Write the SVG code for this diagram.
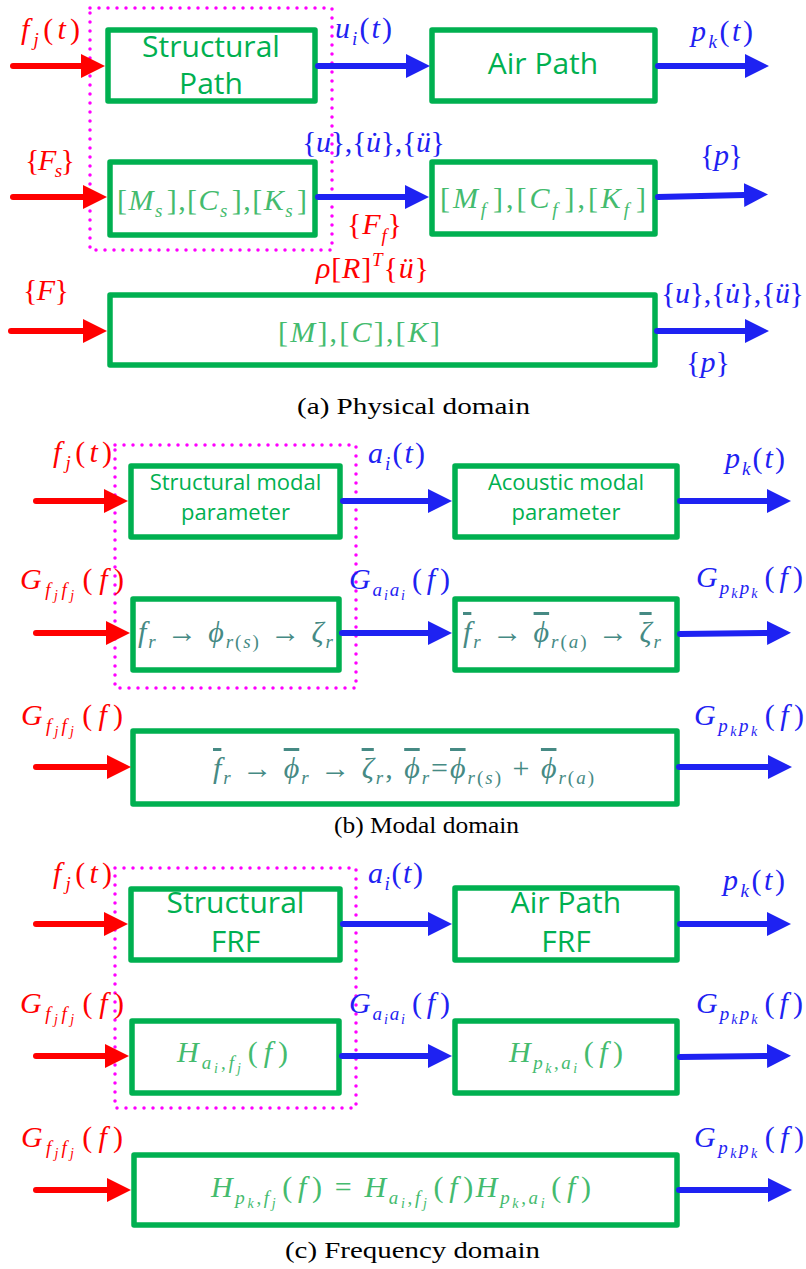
<svg xmlns="http://www.w3.org/2000/svg" width="806" height="1269" viewBox="0 0 806 1269">
<style>
.bx{fill:none;stroke:#00B050;stroke-width:5.5;stroke-linejoin:round}
.dot{fill:none;stroke:#FF00FF;stroke-width:3.5;stroke-linecap:round;stroke-dasharray:0 9}
.ar{fill:none;stroke-width:6;stroke-linecap:round}
.ar.r{stroke:#FF0000}.ar.b{stroke:#1E22F2}
.m{font-family:"Liberation Serif","Times New Roman",Times,serif;font-size:30px}
.bm{font-family:"Liberation Serif","Times New Roman",Times,serif;font-size:30px}
.i{font-style:italic}
.s{font-size:19px}
.ss{font-size:14px}
.r{fill:#FF0000}.b{fill:#1E22F2}.lg{fill:#44BB6E}.tl{fill:#468A84}
.sn{font-family:"Open Sans","Noto Sans",sans-serif;fill:#00B050;text-anchor:middle}
.big{font-size:30px}.mid{font-size:22px}
.cap{font-family:"Liberation Serif","Times New Roman",Times,serif;font-size:24px;fill:#000}
.ov{text-decoration:overline}
</style>
<defs>
<marker id="hr" viewBox="0 0 24 24" refX="0" refY="12" markerWidth="24" markerHeight="24" markerUnits="userSpaceOnUse" orient="auto"><path d="M0,0 L24,12 L0,24 z" fill="#FF0000"/></marker>
<marker id="hb" viewBox="0 0 24 24" refX="0" refY="12" markerWidth="24" markerHeight="24" markerUnits="userSpaceOnUse" orient="auto"><path d="M0,0 L24,12 L0,24 z" fill="#1E22F2"/></marker>
</defs>
<rect width="806" height="1269" fill="#fff"/>

<!-- subsystem outlines -->
<g id="subsystem-a"><rect class="dot" x="90" y="8" width="242" height="242"/></g>
<g id="subsystem-b"><rect class="dot" x="115" y="445" width="241" height="243"/></g>
<g id="subsystem-c"><rect class="dot" x="115" y="868" width="241" height="240"/></g>

<!-- nodes section a -->
<g id="a-structural-path"><rect class="bx" x="108" y="30" width="207" height="71"/><text class="sn big" x="211" y="57">Structural</text><text class="sn big" x="211" y="94">Path</text></g>
<g id="a-air-path"><rect class="bx" x="432" y="30" width="223" height="71"/><text class="sn big" x="543" y="74">Air Path</text></g>
<g id="a-structural-matrix"><rect class="bx" x="110" y="162" width="205" height="73"/>
<text class="bm lg" x="117" y="210" textLength="190">[<tspan class="i">M</tspan><tspan class="s i" dy="7">s</tspan><tspan dy="-7" dx="3">],[</tspan><tspan class="i">C</tspan><tspan class="s i" dy="7">s</tspan><tspan dy="-7" dx="3">],[</tspan><tspan class="i">K</tspan><tspan class="s i" dy="7">s</tspan><tspan dy="-7" dx="3">]</tspan></text></g>
<g id="a-fluid-matrix"><rect class="bx" x="432" y="162" width="223" height="72"/>
<text class="bm lg" x="440" y="208" textLength="206">[<tspan class="i">M</tspan><tspan class="s i" dy="8">f</tspan><tspan dy="-8" dx="4">],[</tspan><tspan class="i">C</tspan><tspan class="s i" dy="8">f</tspan><tspan dy="-8" dx="4">],[</tspan><tspan class="i">K</tspan><tspan class="s i" dy="8">f</tspan><tspan dy="-8" dx="4">]</tspan></text></g>
<g id="a-coupled-matrix"><rect class="bx" x="110" y="295" width="545" height="70"/>
<text class="bm lg" x="278" y="342" textLength="162">[<tspan class="i">M</tspan>],[<tspan class="i">C</tspan>],[<tspan class="i">K</tspan>]</text></g>

<!-- nodes section b -->
<g id="b-structural-modal"><rect class="bx" x="131" y="466" width="209" height="71"/><text class="sn mid" x="235.5" y="490">Structural modal</text><text class="sn mid" x="235.5" y="520">parameter</text></g>
<g id="b-acoustic-modal"><rect class="bx" x="455" y="466" width="222" height="71"/><text class="sn mid" x="566" y="490">Acoustic modal</text><text class="sn mid" x="566" y="520">parameter</text></g>
<g id="b-structural-params"><rect class="bx" x="133" y="599" width="206" height="71"/>
<text class="bm tl" x="138" y="642" textLength="195"><tspan class="i">f</tspan><tspan class="s i" dy="6">r</tspan><tspan dy="-6"> → </tspan><tspan class="i">ϕ</tspan><tspan class="s" dy="6"><tspan class="i">r</tspan>(<tspan class="i">s</tspan>)</tspan><tspan dy="-6"> → </tspan><tspan class="i">ζ</tspan><tspan class="s i" dy="6">r</tspan></text></g>
<g id="b-acoustic-params"><rect class="bx" x="455" y="599" width="222" height="71"/>
<text class="bm tl" x="463" y="642" textLength="198"><tspan class="i ov">f</tspan><tspan class="s i" dy="6">r</tspan><tspan dy="-6"> → </tspan><tspan class="i ov">ϕ</tspan><tspan class="s" dy="6"><tspan class="i">r</tspan>(<tspan class="i">a</tspan>)</tspan><tspan dy="-6"> → </tspan><tspan class="i ov">ζ</tspan><tspan class="s i" dy="6">r</tspan></text></g>
<g id="b-coupled-params"><rect class="bx" x="133" y="731" width="544" height="73"/>
<text class="bm tl" x="213" y="778" textLength="381"><tspan class="i ov">f</tspan><tspan class="s i" dy="6">r</tspan><tspan dy="-6"> → </tspan><tspan class="i ov">ϕ</tspan><tspan class="s i" dy="6">r</tspan><tspan dy="-6"> → </tspan><tspan class="i ov">ζ</tspan><tspan class="s i" dy="6">r</tspan><tspan dy="-6">,   </tspan><tspan class="i ov">ϕ</tspan><tspan class="s i" dy="6">r</tspan><tspan dy="-6">=</tspan><tspan class="i ov">ϕ</tspan><tspan class="s" dy="6"><tspan class="i">r</tspan>(<tspan class="i">s</tspan>)</tspan><tspan dy="-6"> + </tspan><tspan class="i ov">ϕ</tspan><tspan class="s" dy="6"><tspan class="i">r</tspan>(<tspan class="i">a</tspan>)</tspan></text></g>

<!-- nodes section c -->
<g id="c-structural-frf"><rect class="bx" x="131" y="889" width="209" height="71"/><text class="sn big" x="235.5" y="913">Structural</text><text class="sn big" x="235.5" y="952">FRF</text></g>
<g id="c-air-path-frf"><rect class="bx" x="455" y="888" width="222" height="72"/><text class="sn big" x="566" y="913">Air Path</text><text class="sn big" x="566" y="952">FRF</text></g>
<g id="c-structural-h"><rect class="bx" x="132" y="1021" width="207" height="72"/>
<text class="bm lg" x="177" y="1062" textLength="111"><tspan class="i">H</tspan><tspan class="s" dy="7"><tspan class="i">a</tspan><tspan class="ss i" dy="4">i</tspan><tspan dy="-4">,</tspan><tspan class="i">f</tspan><tspan class="ss i" dy="4">j</tspan></tspan><tspan dy="-11" dx="4">(</tspan><tspan class="i" dx="3">f</tspan><tspan dx="3">)</tspan></text></g>
<g id="c-air-h"><rect class="bx" x="455" y="1021" width="222" height="72"/>
<text class="bm lg" x="509" y="1062" textLength="114"><tspan class="i">H</tspan><tspan class="s" dy="7"><tspan class="i">p</tspan><tspan class="ss i" dy="4">k</tspan><tspan dy="-4">,</tspan><tspan class="i">a</tspan><tspan class="ss i" dy="4">i</tspan></tspan><tspan dy="-11" dx="4">(</tspan><tspan class="i" dx="3">f</tspan><tspan dx="3">)</tspan></text></g>
<g id="c-total-h"><rect class="bx" x="134" y="1155" width="543" height="70"/>
<text class="bm lg" x="211" y="1197" textLength="380"><tspan class="i">H</tspan><tspan class="s" dy="7"><tspan class="i">p</tspan><tspan class="ss i" dy="4">k</tspan><tspan dy="-4">,</tspan><tspan class="i">f</tspan><tspan class="ss i" dy="4">j</tspan></tspan><tspan dy="-11" dx="4">(</tspan><tspan class="i" dx="3">f</tspan><tspan dx="3">) = </tspan><tspan class="i">H</tspan><tspan class="s" dy="7"><tspan class="i">a</tspan><tspan class="ss i" dy="4">i</tspan><tspan dy="-4">,</tspan><tspan class="i">f</tspan><tspan class="ss i" dy="4">j</tspan></tspan><tspan dy="-11" dx="4">(</tspan><tspan class="i" dx="3">f</tspan><tspan dx="3">)</tspan><tspan class="i">H</tspan><tspan class="s" dy="7"><tspan class="i">p</tspan><tspan class="ss i" dy="4">k</tspan><tspan dy="-4">,</tspan><tspan class="i">a</tspan><tspan class="ss i" dy="4">i</tspan></tspan><tspan dy="-11" dx="4">(</tspan><tspan class="i" dx="3">f</tspan><tspan dx="3">)</tspan></text></g>

<!-- connectors -->
<g id="connectors">
<path class="ar r" d="M13,66 H81" marker-end="url(#hr)"/>
<path class="ar b" d="M318,66 H406" marker-end="url(#hb)"/>
<path class="ar b" d="M658,66 H745" marker-end="url(#hb)"/>
<path class="ar r" d="M13,197 H83" marker-end="url(#hr)"/>
<path class="ar b" d="M318,197 H405" marker-end="url(#hb)"/>
<path class="ar b" d="M658,197 L744,195" marker-end="url(#hb)"/>
<path class="ar r" d="M11,331 H83" marker-end="url(#hr)"/>
<path class="ar b" d="M657,331 H745" marker-end="url(#hb)"/>

<path class="ar r" d="M36,501 H104" marker-end="url(#hr)"/>
<path class="ar b" d="M343,501 H428" marker-end="url(#hb)"/>
<path class="ar b" d="M680,501 H767" marker-end="url(#hb)"/>
<path class="ar r" d="M36,633 H106" marker-end="url(#hr)"/>
<path class="ar b" d="M342,633 H428" marker-end="url(#hb)"/>
<path class="ar b" d="M680,634 L767,633" marker-end="url(#hb)"/>
<path class="ar r" d="M36,767 H107" marker-end="url(#hr)"/>
<path class="ar b" d="M679,767 H768" marker-end="url(#hb)"/>

<path class="ar r" d="M36,924 H104" marker-end="url(#hr)"/>
<path class="ar b" d="M343,924 H428" marker-end="url(#hb)"/>
<path class="ar b" d="M680,924 H767" marker-end="url(#hb)"/>
<path class="ar r" d="M36,1056 H105" marker-end="url(#hr)"/>
<path class="ar b" d="M342,1056 H428" marker-end="url(#hb)"/>
<path class="ar b" d="M680,1057 L767,1056" marker-end="url(#hb)"/>
<path class="ar r" d="M36,1190 H107" marker-end="url(#hr)"/>
<path class="ar b" d="M679,1190 H768" marker-end="url(#hb)"/>
</g>

<!-- connector labels -->
<g id="labels">
<text class="m r" x="21" y="39" textLength="59"><tspan class="i">f</tspan><tspan class="s i" dy="7">j</tspan><tspan dy="-7">(</tspan><tspan class="i">t</tspan>)</text>
<text class="m b" x="335" y="38" textLength="57"><tspan class="i">u</tspan><tspan class="s i" dy="7">i</tspan><tspan dy="-7">(</tspan><tspan class="i">t</tspan>)</text>
<text class="m b" x="691" y="41" textLength="62"><tspan class="i">p</tspan><tspan class="s i" dy="7">k</tspan><tspan dy="-7">(</tspan><tspan class="i">t</tspan>)</text>
<text class="m r" x="25" y="170" textLength="50">{<tspan class="i">F</tspan><tspan class="s i" dy="7">s</tspan><tspan dy="-7">}</tspan></text>
<text class="m b" x="302" y="152" textLength="143">{<tspan class="i">u</tspan>},{<tspan class="i">u̇</tspan>},{<tspan class="i">ü</tspan>}</text>
<text class="m r" x="347" y="234" textLength="55">{<tspan class="i">F</tspan><tspan class="s i" dy="8">f</tspan><tspan dy="-8">}</tspan></text>
<text class="m b" x="700" y="165" textLength="43">{<tspan class="i">p</tspan>}</text>
<text class="m r" x="316" y="278" textLength="113"><tspan class="i">ρ</tspan>[<tspan class="i">R</tspan>]<tspan class="s i" dy="-12">T</tspan><tspan dy="12">{</tspan><tspan class="i">ü</tspan>}</text>
<text class="m r" x="23" y="300" textLength="46">{<tspan class="i">F</tspan>}</text>
<text class="m b" x="661" y="303" textLength="143">{<tspan class="i">u</tspan>},{<tspan class="i">u̇</tspan>},{<tspan class="i">ü</tspan>}</text>
<text class="m b" x="686" y="372" textLength="44">{<tspan class="i">p</tspan>}</text>

<text class="m r" x="53" y="462" textLength="59"><tspan class="i">f</tspan><tspan class="s i" dy="7">j</tspan><tspan dy="-7">(</tspan><tspan class="i">t</tspan>)</text>
<text class="m b" x="368" y="463" textLength="57"><tspan class="i">a</tspan><tspan class="s i" dy="7">i</tspan><tspan dy="-7">(</tspan><tspan class="i">t</tspan>)</text>
<text class="m b" x="725" y="468" textLength="60"><tspan class="i">p</tspan><tspan class="s i" dy="7">k</tspan><tspan dy="-7">(</tspan><tspan class="i">t</tspan>)</text>
<text class="m r" x="20" y="589" textLength="104"><tspan class="i">G</tspan><tspan class="s i" dy="7">f</tspan><tspan class="ss i" dy="4">j</tspan><tspan class="s i" dy="-4">f</tspan><tspan class="ss i" dy="4">j</tspan><tspan dy="-11" dx="5">(</tspan><tspan class="i" dx="3">f</tspan><tspan dx="3">)</tspan></text>
<text class="m b" x="349" y="589" textLength="101"><tspan class="i">G</tspan><tspan class="s i" dy="7">a</tspan><tspan class="ss i" dy="4">i</tspan><tspan class="s i" dy="-4">a</tspan><tspan class="ss i" dy="4">i</tspan><tspan dy="-11" dx="5">(</tspan><tspan class="i" dx="3">f</tspan><tspan dx="3">)</tspan></text>
<text class="m b" x="696" y="587" textLength="107"><tspan class="i">G</tspan><tspan class="s i" dy="7">p</tspan><tspan class="ss i" dy="4">k</tspan><tspan class="s i" dy="-4">p</tspan><tspan class="ss i" dy="4">k</tspan><tspan dy="-11" dx="5">(</tspan><tspan class="i" dx="3">f</tspan><tspan dx="3">)</tspan></text>
<text class="m r" x="21" y="725" textLength="102"><tspan class="i">G</tspan><tspan class="s i" dy="7">f</tspan><tspan class="ss i" dy="4">j</tspan><tspan class="s i" dy="-4">f</tspan><tspan class="ss i" dy="4">j</tspan><tspan dy="-11" dx="5">(</tspan><tspan class="i" dx="3">f</tspan><tspan dx="3">)</tspan></text>
<text class="m b" x="694" y="725" textLength="110"><tspan class="i">G</tspan><tspan class="s i" dy="7">p</tspan><tspan class="ss i" dy="4">k</tspan><tspan class="s i" dy="-4">p</tspan><tspan class="ss i" dy="4">k</tspan><tspan dy="-11" dx="5">(</tspan><tspan class="i" dx="3">f</tspan><tspan dx="3">)</tspan></text>

<text class="m r" x="53" y="883" textLength="59"><tspan class="i">f</tspan><tspan class="s i" dy="7">j</tspan><tspan dy="-7">(</tspan><tspan class="i">t</tspan>)</text>
<text class="m b" x="368" y="883" textLength="55"><tspan class="i">a</tspan><tspan class="s i" dy="7">i</tspan><tspan dy="-7">(</tspan><tspan class="i">t</tspan>)</text>
<text class="m b" x="723" y="890" textLength="62"><tspan class="i">p</tspan><tspan class="s i" dy="7">k</tspan><tspan dy="-7">(</tspan><tspan class="i">t</tspan>)</text>
<text class="m r" x="20" y="1013" textLength="104"><tspan class="i">G</tspan><tspan class="s i" dy="7">f</tspan><tspan class="ss i" dy="4">j</tspan><tspan class="s i" dy="-4">f</tspan><tspan class="ss i" dy="4">j</tspan><tspan dy="-11" dx="5">(</tspan><tspan class="i" dx="3">f</tspan><tspan dx="3">)</tspan></text>
<text class="m b" x="349" y="1013" textLength="101"><tspan class="i">G</tspan><tspan class="s i" dy="7">a</tspan><tspan class="ss i" dy="4">i</tspan><tspan class="s i" dy="-4">a</tspan><tspan class="ss i" dy="4">i</tspan><tspan dy="-11" dx="5">(</tspan><tspan class="i" dx="3">f</tspan><tspan dx="3">)</tspan></text>
<text class="m b" x="696" y="1013" textLength="107"><tspan class="i">G</tspan><tspan class="s i" dy="7">p</tspan><tspan class="ss i" dy="4">k</tspan><tspan class="s i" dy="-4">p</tspan><tspan class="ss i" dy="4">k</tspan><tspan dy="-11" dx="5">(</tspan><tspan class="i" dx="3">f</tspan><tspan dx="3">)</tspan></text>
<text class="m r" x="21" y="1147" textLength="102"><tspan class="i">G</tspan><tspan class="s i" dy="7">f</tspan><tspan class="ss i" dy="4">j</tspan><tspan class="s i" dy="-4">f</tspan><tspan class="ss i" dy="4">j</tspan><tspan dy="-11" dx="5">(</tspan><tspan class="i" dx="3">f</tspan><tspan dx="3">)</tspan></text>
<text class="m b" x="694" y="1147" textLength="110"><tspan class="i">G</tspan><tspan class="s i" dy="7">p</tspan><tspan class="ss i" dy="4">k</tspan><tspan class="s i" dy="-4">p</tspan><tspan class="ss i" dy="4">k</tspan><tspan dy="-11" dx="5">(</tspan><tspan class="i" dx="3">f</tspan><tspan dx="3">)</tspan></text>
</g>

<!-- captions -->
<g id="captions">
<text class="cap" x="297" y="414" textLength="233" lengthAdjust="spacingAndGlyphs">(a) Physical domain</text>
<text class="cap" x="334" y="833" textLength="185" lengthAdjust="spacingAndGlyphs">(b) Modal domain</text>
<text class="cap" x="285" y="1258" textLength="255" lengthAdjust="spacingAndGlyphs">(c) Frequency domain</text>
</g>
</svg>
